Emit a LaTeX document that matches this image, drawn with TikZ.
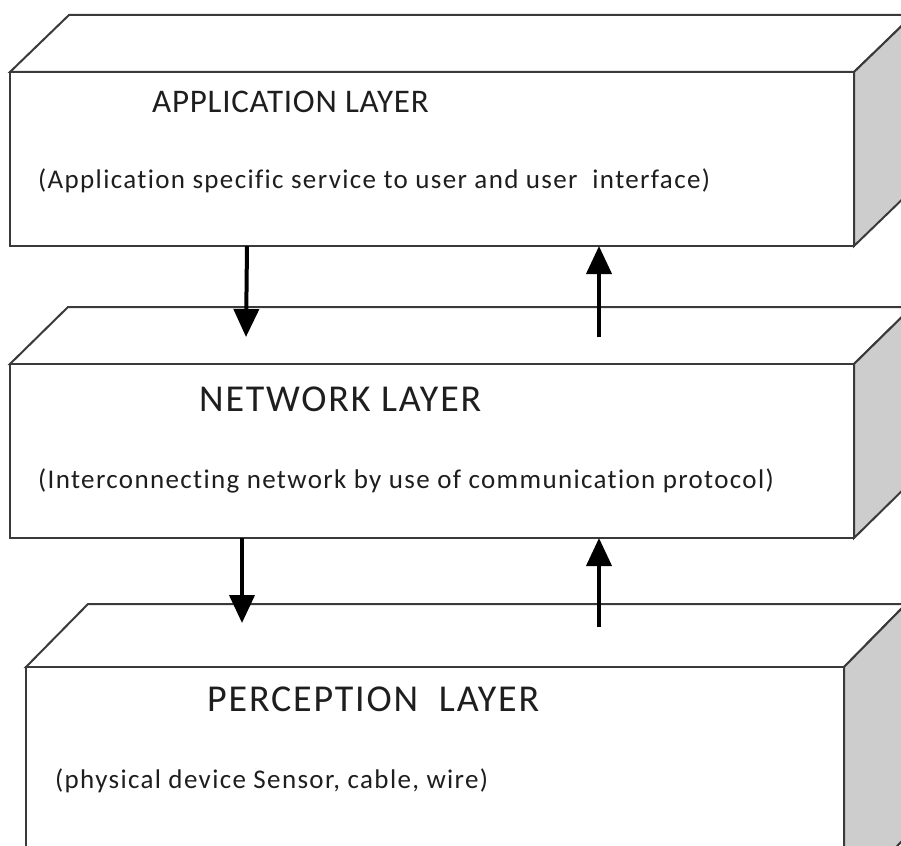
\documentclass[tikz,border=0pt]{standalone}
\usepackage{fontspec}
\setmainfont{Carlito}[Ligatures=NoCommon]
\newfontfamily\apptitlefont{Carlito}[Ligatures=NoCommon, LetterSpace=2.3]
\newfontfamily\titlefont{Carlito}[Ligatures=NoCommon, LetterSpace=4.8]
\newfontfamily\notefont{Carlito}[Ligatures=NoCommon, LetterSpace=5]
\usetikzlibrary{arrows.meta}

\definecolor{edge}{HTML}{3A3A3A}
\definecolor{sidegray}{HTML}{CDCDCD}
\definecolor{ink}{HTML}{1E1E1E}

\tikzset{
  face/.style={draw=edge, line width=2pt, fill=white, rectangle,
    inner sep=0pt, outer sep=0pt, anchor=north west},
  topface/.style={draw=edge, line width=2pt, fill=white, line join=miter},
  sideface/.style={draw=edge, line width=2pt, fill=sidegray, line join=miter},
  apptitle/.style={anchor=base west, inner sep=0pt, text=ink,
    font=\apptitlefont\fontsize{33}{36}\selectfont},
  layertitle/.style={anchor=base west, inner sep=0pt, text=ink,
    font=\titlefont\fontsize{38}{42}\selectfont},
  layernote/.style={anchor=base west, inner sep=0pt, text=ink,
    font=\notefont\fontsize{27}{30}\selectfont},
  flow/.style={line width=4pt, black,
    -{Triangle[length=28pt,width=25pt]}, shorten >=0pt}
}

% cuboid: front-left x, front-right x, front-top y, bottom y, depth dx, depth dy
\newcommand{\layerblock}[7]{%
  \path[topface] (#1,#3) -- ++(#5,-#6) -- (#2+#5,#3-#6) -- (#2,#3) -- cycle;
  \path[sideface] (#2,#3) -- (#2+#5,#3-#6) -- (#2+#5,#4-#6) -- (#2,#4) -- cycle;
  \node[face, minimum width=#2pt-#1pt, minimum height=#4pt-#3pt] (#7) at (#1,#3) {};
}

\begin{document}
\begin{tikzpicture}[x=1pt, y=-1pt]
  \useasboundingbox (0,0) rectangle (901,845);
  \clip (0,0) rectangle (901,845);
  \fill[white] (0,0) rectangle (901,845);

  % the three stacked layers
  \layerblock{10}{854}{72}{246}{59}{57}{app}
  \layerblock{10}{854}{364}{538}{58}{57}{net}
  \layerblock{26}{844}{667}{900}{62}{63}{per}

  % labels
  \node[apptitle]   (appT) at (152,113) {APPLICATION LAYER};
  \node[layernote]  (appN) at (38,188) {(Application specific service to user and user\ \ interface)};
  \node[layertitle] (netT) at (199,411) {NETWORK LAYER};
  \node[layernote]  (netN) at (38,488) {(Interconnecting network by use of communication protocol)};
  \node[layertitle] (perT) at (207,711) {PERCEPTION\ \ LAYER};
  \node[layernote]  (perN) at (55,788) {(physical device Sensor, cable, wire)};

  % arrow end points between the layers
  \coordinate (d1a) at (247,246);
  \coordinate (d1b) at (246,337);
  \coordinate (u1a) at (599,337);
  \coordinate (u1b) at (599,246);
  \coordinate (d2a) at (242,538);
  \coordinate (d2b) at (242,623);
  \coordinate (u2a) at (599,627);
  \coordinate (u2b) at (599,538);

  \draw[flow] (d1a) -- (d1b);
  \draw[flow] (u1a) -- (u1b);
  \draw[flow] (d2a) -- (d2b);
  \draw[flow] (u2a) -- (u2b);
\end{tikzpicture}
\end{document}
